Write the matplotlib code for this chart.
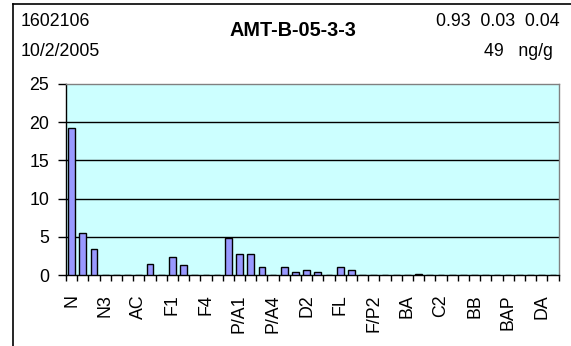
import matplotlib
matplotlib.use("Agg")
import matplotlib.pyplot as plt
from matplotlib.lines import Line2D
import numpy as np

plt.rcParams['font.family'] = ['Liberation Sans', 'DejaVu Sans']

categories = ["N", "N1", "N2", "N3", "N4", "AY", "AC", "BP", "F", "F1", "F2",
              "F3", "F4", "DBF", "P/A", "P/A1", "P/A2", "P/A3", "P/A4", "D",
              "D1", "D2", "D3", "D4", "FL", "PY", "F/P1", "F/P2", "F/P3",
              "BNT", "BA", "C", "C1", "C2", "C3", "C4", "BB", "BK", "BE",
              "BAP", "PER", "IND", "DA", "GHI"]
values = [19.2, 5.5, 3.4, 0, 0, 0, 0, 1.5, 0, 2.3, 1.3,
          0, 0, 0, 4.9, 2.8, 2.7, 1.1, 0, 1.0,
          0.45, 0.6, 0.45, 0, 1.1, 0.65, 0, 0, 0,
          0, 0, 0.15, 0, 0, 0, 0, 0, 0, 0,
          0, 0, 0, 0, 0]
label_every = 3
sample_id = "1602106"
sample_date = "10/2/2005"
title = "AMT-B-05-3-3"
ratios = "0.93  0.03  0.04"
total = "49   ng/g"
yticks = [0, 5, 10, 15, 20, 25]

fig = plt.figure(figsize=(5.71, 3.46), dpi=100)
W, H = 571, 346
ax = fig.add_axes([66 / W, 1 - 275 / H, (558.5 - 66) / W, (275 - 84) / H])
ax.set_facecolor("#CCFFFF")

x = np.arange(len(categories))
ax.bar(x, values, width=0.6, color="#9999FF", edgecolor="black", linewidth=1.0, zorder=3)

ax.set_xlim(-0.5, len(categories) - 0.5)
ax.set_ylim(0, 25)
ax.set_yticks(yticks)
for yv in yticks[1:-1]:
    ax.axhline(yv, color="black", linewidth=1.0, zorder=1)

ax.set_xticks(x[::label_every])
ax.set_xticklabels(categories[::label_every], rotation=90, fontsize=12.8)
ax.set_xticks(np.arange(len(categories) + 1) - 0.5, minor=True)
ax.tick_params(axis="x", which="major", length=0, pad=14)
ax.tick_params(axis="x", which="minor", length=4, width=1, direction="out", color="black")
ax.tick_params(axis="y", length=6, width=1, direction="out", labelsize=12.8, pad=6)

for s in ["top", "right"]:
    ax.spines[s].set_color("#808080")
    ax.spines[s].set_linewidth(1.0)
for s in ["left", "bottom"]:
    ax.spines[s].set_color("black")
    ax.spines[s].set_linewidth(1.0)

# outer frame (partially visible: left and top)
fig.add_artist(Line2D([13 / W, 13 / W], [0, 1 - 4 / H], color="black", linewidth=1.2))
fig.add_artist(Line2D([13 / W, 1], [1 - 4 / H, 1 - 4 / H], color="black", linewidth=1.2))

fig.text(20.5 / W, 1 - 21 / H, sample_id, fontsize=12.8, ha="left", va="center")
fig.text(20.5 / W, 1 - 51 / H, sample_date, fontsize=12.8, ha="left", va="center")
fig.text(293 / W, 1 - 30 / H, title, fontsize=14.3, fontweight="bold", ha="center", va="center")
fig.text(559.5 / W, 1 - 21 / H, ratios, fontsize=12.8, ha="right", va="center")
fig.text(553 / W, 1 - 51 / H, total, fontsize=12.8, ha="right", va="center")

fig.savefig("out.png", dpi=100)
